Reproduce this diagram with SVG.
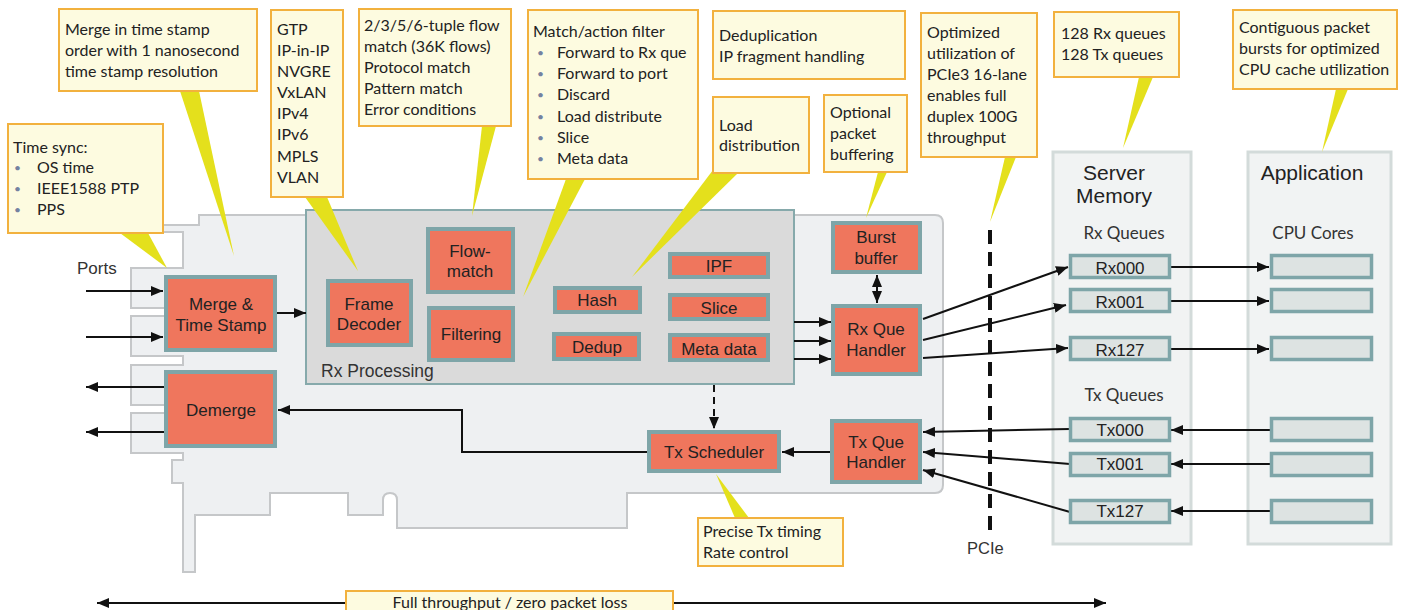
<svg xmlns="http://www.w3.org/2000/svg" width="1402" height="610" viewBox="0 0 1402 610">
<defs>
<style>
.card{fill:#eef0f2;stroke:#c5c7c9;stroke-width:2}
.rxp{fill:#dadada;stroke:#86a9ab;stroke-width:2}
.blk{fill:#ef765d;stroke:#7ea5a8;stroke-width:4}
.q{fill:#dde3e2;stroke:#7ea5a8;stroke-width:3.5}
.panel{fill:#f1f3f3;stroke:#d3dbda;stroke-width:3}
.ptr{fill:#e4e01c}
.co{fill:#fdfbe0;stroke:#f2b13e;stroke-width:2}
.ct{font-family:Lato,"Open Sans",sans-serif;font-size:16px;fill:#222}
.bul{font-family:Lato,sans-serif;font-size:12px;fill:#7482a0}
.bt{font-family:"Liberation Sans",Arial,sans-serif;font-size:17px;fill:#222;text-anchor:middle}
.lt{font-family:"Liberation Sans",Arial,sans-serif;font-size:17px;fill:#333}
.qt{font-family:Lato,sans-serif;font-size:17px;fill:#333;text-anchor:middle}
.ln{fill:none;stroke:#111;stroke-width:2}
</style>
<marker id="ah" viewBox="0 0 12 10" refX="12" refY="5" markerWidth="12" markerHeight="10" markerUnits="userSpaceOnUse" orient="auto-start-reverse">
<path d="M0,0 L12,5 L0,10 z" fill="#111"/>
</marker>
</defs>

<g id="card">
<path class="card" d="M199,215 H935 Q943,215 943,223 V485 Q943,493 935,493 H627 V528 H397 V500 Q397,493 390,493 Q383,493 383,500 V515 H348 V493 H270 V515 H195 V572 H183 V483 H172 V460 H183 V453 H131 V413 H183 V405 H131 V365 H183 V356 H131 V316 H183 V308 H131 V268 H183 V232 H155 V225 H199 Z"/>
</g>

<g id="rx-processing">
<rect class="rxp" x="306" y="210" width="488" height="174"/>
<text class="lt" x="321" y="377" style="font-size:17.5px">Rx Processing</text>
</g>

<g id="server-memory">
<rect class="panel" x="1053" y="152" width="138" height="392"/>
<text class="bt" x="1114" y="180" style="font-size:21px">Server</text>
<text class="bt" x="1114" y="203" style="font-size:21px">Memory</text>
<text class="qt" x="1124" y="239">Rx Queues</text>
<text class="qt" x="1124" y="401">Tx Queues</text>
</g>
<g id="application">
<rect class="panel" x="1248" y="152" width="143" height="392"/>
<text class="bt" x="1312" y="180" style="font-size:21px">Application</text>
<text class="qt" x="1313" y="239">CPU Cores</text>
</g>

<g id="pointers">
<polygon class="ptr" points="120,233 148,233 167,268"/>
<polygon class="ptr" points="180,91 199,91 234,256"/>
<polygon class="ptr" points="305,197 327,197 358,271"/>
<polygon class="ptr" points="482,126 496,126 472,216"/>
<polygon class="ptr" points="566,179 585,179 523,297"/>
<polygon class="ptr" points="713,170 738,173 632,277"/>
<polygon class="ptr" points="878,172 887,172 866,218"/>
<polygon class="ptr" points="1005,157 1016,157 990,222"/>
<polygon class="ptr" points="1139,77 1153,77 1123,148"/>
<polygon class="ptr" points="1336,89 1348,89 1322,152"/>
<polygon class="ptr" points="735,518 749,518 716,474"/>
</g>

<g id="connectors">
<path class="ln" d="M86,291 H163" marker-end="url(#ah)"/>
<path class="ln" d="M86,337 H163" marker-end="url(#ah)"/>
<path class="ln" d="M164,387 H86" marker-end="url(#ah)"/>
<path class="ln" d="M164,432 H86" marker-end="url(#ah)"/>
<path class="ln" d="M277,313 H306" marker-end="url(#ah)"/>
<path class="ln" d="M794,322 H831" marker-end="url(#ah)"/>
<path class="ln" d="M794,341 H831" marker-end="url(#ah)"/>
<path class="ln" d="M794,359 H831" marker-end="url(#ah)"/>
<path class="ln" d="M877,275 V303" marker-start="url(#ah)" marker-end="url(#ah)"/>
<path class="ln" d="M923,319 L1068,267" marker-end="url(#ah)"/>
<path class="ln" d="M923,340 L1066,305" marker-end="url(#ah)"/>
<path class="ln" d="M923,358 L1068,348" marker-end="url(#ah)"/>
<path class="ln" d="M1170,267 H1269" marker-end="url(#ah)"/>
<path class="ln" d="M1170,301 H1269" marker-end="url(#ah)"/>
<path class="ln" d="M1170,349 H1269" marker-end="url(#ah)"/>
<path class="ln" d="M1270,430 H1171" marker-end="url(#ah)"/>
<path class="ln" d="M1270,464 H1171" marker-end="url(#ah)"/>
<path class="ln" d="M1270,511 H1171" marker-end="url(#ah)"/>
<path class="ln" d="M1070,429 L923,432" marker-end="url(#ah)"/>
<path class="ln" d="M1070,464 L923,452" marker-end="url(#ah)"/>
<path class="ln" d="M1070,512 L923,470" marker-end="url(#ah)"/>
<path class="ln" d="M830,452 H782" marker-end="url(#ah)"/>
<path class="ln" d="M647,452 H462 V410 H278" marker-end="url(#ah)"/>
<path class="ln" d="M714,385 V429" stroke-dasharray="7,5" marker-end="url(#ah)"/>
<path class="ln" d="M990,230 V532" style="stroke-width:4" stroke-dasharray="14,8"/>
<path class="ln" d="M97,603 H1106" marker-start="url(#ah)" marker-end="url(#ah)"/>
</g>

<text class="lt" x="77" y="274">Ports</text>
<text class="lt" x="967" y="554" style="font-size:16.5px">PCIe</text>

<g id="merge"><rect class="blk" x="166" y="277" width="109" height="73"/><text class="bt" x="221" y="310">Merge &amp;</text><text class="bt" x="221" y="331">Time Stamp</text></g>
<g id="demerge"><rect class="blk" x="166" y="372" width="109" height="74"/><text class="bt" x="221" y="416">Demerge</text></g>
<g id="frame-decoder"><rect class="blk" x="328" y="281" width="83" height="64"/><text class="bt" x="369" y="310">Frame</text><text class="bt" x="369" y="330">Decoder</text></g>
<g id="flow-match"><rect class="blk" x="428" y="229" width="85" height="63"/><text class="bt" x="470" y="257">Flow-</text><text class="bt" x="470" y="277">match</text></g>
<g id="filtering"><rect class="blk" x="429" y="308" width="84" height="52"/><text class="bt" x="471" y="340">Filtering</text></g>
<g id="hash"><rect class="blk" x="555" y="288" width="85" height="24"/><text class="bt" x="597" y="306">Hash</text></g>
<g id="dedup"><rect class="blk" x="554" y="334" width="85" height="25"/><text class="bt" x="597" y="353">Dedup</text></g>
<g id="ipf"><rect class="blk" x="670" y="254" width="98" height="23"/><text class="bt" x="719" y="272">IPF</text></g>
<g id="slice"><rect class="blk" x="670" y="295" width="98" height="24"/><text class="bt" x="719" y="314">Slice</text></g>
<g id="meta-data"><rect class="blk" x="670" y="335" width="98" height="25"/><text class="bt" x="719" y="355">Meta data</text></g>
<g id="burst-buffer"><rect class="blk" x="833" y="223" width="87" height="49"/><text class="bt" x="876" y="243">Burst</text><text class="bt" x="876" y="264">buffer</text></g>
<g id="rx-que-handler"><rect class="blk" x="833" y="306" width="87" height="68"/><text class="bt" x="876" y="335">Rx Que</text><text class="bt" x="876" y="356">Handler</text></g>
<g id="tx-scheduler"><rect class="blk" x="649" y="432" width="130" height="39"/><text class="bt" x="714" y="458">Tx Scheduler</text></g>
<g id="tx-que-handler"><rect class="blk" x="832" y="421" width="88" height="61"/><text class="bt" x="876" y="448">Tx Que</text><text class="bt" x="876" y="468">Handler</text></g>

<g id="rx000"><rect class="q" x="1070.5" y="255.5" width="99" height="22"/><text class="bt" x="1120" y="274">Rx000</text></g>
<g id="rx001"><rect class="q" x="1070.5" y="289.5" width="99" height="22"/><text class="bt" x="1120" y="308">Rx001</text></g>
<g id="rx127"><rect class="q" x="1070.5" y="337.5" width="99" height="22"/><text class="bt" x="1120" y="356">Rx127</text></g>
<g id="tx000"><rect class="q" x="1070.5" y="418.5" width="99" height="22"/><text class="bt" x="1120" y="436">Tx000</text></g>
<g id="tx001"><rect class="q" x="1070.5" y="453.5" width="99" height="22"/><text class="bt" x="1120" y="470">Tx001</text></g>
<g id="tx127"><rect class="q" x="1070.5" y="500.5" width="99" height="22"/><text class="bt" x="1120" y="517">Tx127</text></g>
<g id="cpu1"><rect class="q" x="1271.5" y="255.5" width="100" height="22"/></g>
<g id="cpu2"><rect class="q" x="1271.5" y="289.5" width="100" height="22"/></g>
<g id="cpu3"><rect class="q" x="1271.5" y="337.5" width="100" height="22"/></g>
<g id="cpu4"><rect class="q" x="1271.5" y="418.5" width="100" height="22"/></g>
<g id="cpu5"><rect class="q" x="1271.5" y="453.5" width="100" height="22"/></g>
<g id="cpu6"><rect class="q" x="1271.5" y="500.5" width="100" height="22"/></g>

<g id="callout-timesync"><rect class="co" x="8" y="124" width="155" height="109"/>
<text class="ct" x="13" y="153">Time sync:</text>
<text class="bul" x="14" y="172">•</text><text class="ct" x="37" y="173">OS time</text>
<text class="bul" x="14" y="193">•</text><text class="ct" x="37" y="194">IEEE1588 PTP</text>
<text class="bul" x="14" y="214">•</text><text class="ct" x="37" y="215">PPS</text></g>
<g id="callout-merge"><rect class="co" x="59" y="9" width="198" height="82"/>
<text class="ct" x="65" y="35">Merge in time stamp</text>
<text class="ct" x="65" y="56">order with 1 nanosecond</text>
<text class="ct" x="65" y="77">time stamp resolution</text></g>
<g id="callout-protocols"><rect class="co" x="271" y="10" width="72" height="187"/>
<text class="ct" x="277" y="35">GTP</text><text class="ct" x="277" y="56">IP-in-IP</text><text class="ct" x="277" y="77">NVGRE</text><text class="ct" x="277" y="98">VxLAN</text><text class="ct" x="277" y="119">IPv4</text><text class="ct" x="277" y="140">IPv6</text><text class="ct" x="277" y="162">MPLS</text><text class="ct" x="277" y="183">VLAN</text></g>
<g id="callout-flow"><rect class="co" x="359" y="9" width="152" height="117"/>
<text class="ct" x="364" y="31">2/3/5/6-tuple flow</text><text class="ct" x="364" y="52">match (36K flows)</text><text class="ct" x="364" y="73">Protocol match</text><text class="ct" x="364" y="94">Pattern match</text><text class="ct" x="364" y="115">Error conditions</text></g>
<g id="callout-filter"><rect class="co" x="528" y="10" width="170" height="169"/>
<text class="ct" x="533" y="37">Match/action filter</text>
<text class="bul" x="537" y="57">•</text><text class="ct" x="557" y="58">Forward to Rx que</text>
<text class="bul" x="537" y="78">•</text><text class="ct" x="557" y="79">Forward to port</text>
<text class="bul" x="537" y="99">•</text><text class="ct" x="557" y="100">Discard</text>
<text class="bul" x="537" y="121">•</text><text class="ct" x="557" y="122">Load distribute</text>
<text class="bul" x="537" y="142">•</text><text class="ct" x="557" y="143">Slice</text>
<text class="bul" x="537" y="163">•</text><text class="ct" x="557" y="164">Meta data</text></g>
<g id="callout-dedup"><rect class="co" x="713" y="11" width="192" height="68"/>
<text class="ct" x="719" y="41">Deduplication</text><text class="ct" x="719" y="62">IP fragment handling</text></g>
<g id="callout-load"><rect class="co" x="713" y="97" width="96" height="76"/>
<text class="ct" x="719" y="131">Load</text><text class="ct" x="719" y="151">distribution</text></g>
<g id="callout-buffer"><rect class="co" x="824" y="95" width="83" height="77"/>
<text class="ct" x="830" y="118">Optional</text><text class="ct" x="830" y="139">packet</text><text class="ct" x="830" y="160">buffering</text></g>
<g id="callout-pcie"><rect class="co" x="921" y="13" width="116" height="144"/>
<text class="ct" x="927" y="38">Optimized</text><text class="ct" x="927" y="59">utilization of</text><text class="ct" x="927" y="80">PCIe3 16-lane</text><text class="ct" x="927" y="101">enables full</text><text class="ct" x="927" y="122">duplex 100G</text><text class="ct" x="927" y="143">throughput</text></g>
<g id="callout-queues"><rect class="co" x="1054" y="12" width="125" height="65"/>
<text class="ct" x="1061" y="39">128 Rx queues</text><text class="ct" x="1061" y="60">128 Tx queues</text></g>
<g id="callout-cpu"><rect class="co" x="1233" y="10" width="164" height="79"/>
<text class="ct" x="1239" y="33">Contiguous packet</text><text class="ct" x="1239" y="54">bursts for optimized</text><text class="ct" x="1239" y="75">CPU cache utilization</text></g>
<g id="callout-tx"><rect class="co" x="698" y="518" width="145" height="48"/>
<text class="ct" x="703" y="537">Precise Tx timing</text><text class="ct" x="703" y="558">Rate control</text></g>
<g id="callout-throughput"><rect class="co" x="346" y="591" width="327" height="25"/>
<text class="ct" x="510" y="608" text-anchor="middle">Full throughput / zero packet loss</text></g>
</svg>
